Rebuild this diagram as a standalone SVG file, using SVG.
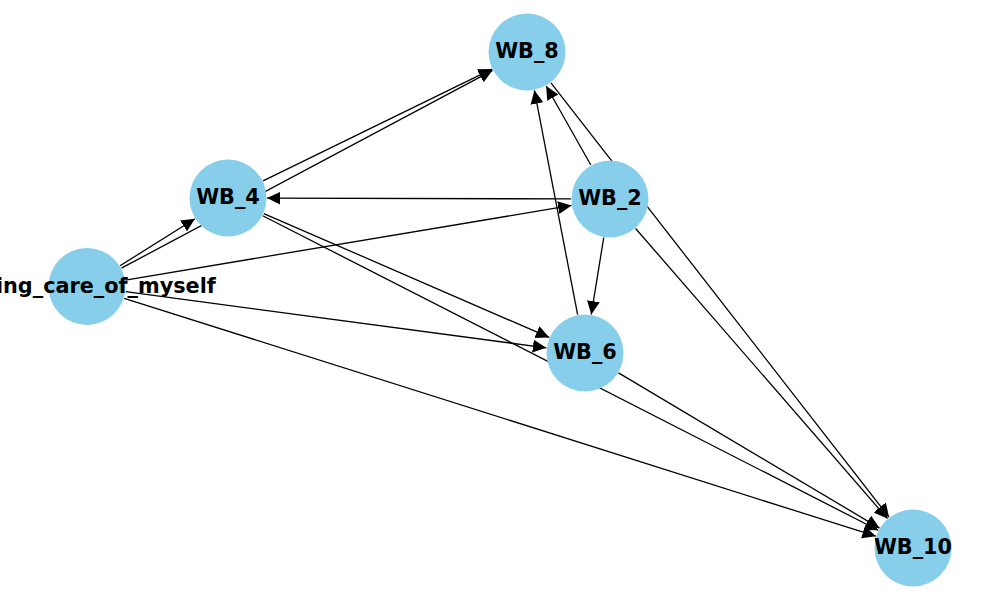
<svg xmlns="http://www.w3.org/2000/svg" width="1000" height="600" viewBox="0 0 1000 600">
  <style>
    .edge { stroke: #000; stroke-width: 1.3; fill: none; marker-end: url(#arrow); }
    .node circle { fill: #87CEEB; }
    .node text { font-family: "DejaVu Sans", "Liberation Sans", sans-serif; font-weight: bold; font-size: 20.8px; text-anchor: middle; fill: #000; }
  </style>
  <defs>
    <marker id="arrow" markerUnits="userSpaceOnUse" markerWidth="14" markerHeight="14" viewBox="0 0 13 12" refX="12.5" refY="6" orient="auto">
      <path d="M0,0 L12.5,6 L0,12 z" fill="#000"/>
    </marker>
  </defs>
  <rect width="1000" height="600" fill="#fff"/>

  <!-- directed edges, drawn beneath the nodes -->
  <g id="edges">
    <line class="edge" x1="120.0" y1="265.8" x2="194.97" y2="218.73"/>
    <line class="edge" x1="121.42" y1="268.16" x2="492.58" y2="70.34"/>
    <line class="edge" x1="263.05" y1="180.89" x2="491.95" y2="69.11"/>
    <line class="edge" x1="125.46" y1="280.06" x2="571.54" y2="205.44"/>
    <line class="edge" x1="125.66" y1="291.66" x2="546.34" y2="347.84"/>
    <line class="edge" x1="124.18" y1="298.27" x2="875.82" y2="536.23"/>
    <line class="edge" x1="263.77" y1="213.53" x2="549.23" y2="337.47"/>
    <line class="edge" x1="262.73" y1="215.75" x2="878.27" y2="530.25"/>
    <line class="edge" x1="571" y1="198.9" x2="267" y2="198.1"/>
    <line class="edge" x1="590.82" y1="165.04" x2="546.18" y2="85.96"/>
    <line class="edge" x1="603.75" y1="237.5" x2="591.25" y2="314.5"/>
    <line class="edge" x1="635.57" y1="228.45" x2="887.43" y2="518.55"/>
    <line class="edge" x1="550.95" y1="82.78" x2="889.05" y2="517.22"/>
    <line class="edge" x1="577.62" y1="314.7" x2="534.38" y2="90.3"/>
    <line class="edge" x1="618.52" y1="372.93" x2="879.48" y2="528.07"/>
  </g>

  <!-- the long label runs past the left edge of the canvas -->
  <g id="taking_care_of_myself" class="node">
    <circle cx="87" cy="286.5" r="38.5"/>
    <text x="87" y="292.5">taking_care_of_myself</text>
  </g>
  <g id="WB_4" class="node">
    <circle cx="228" cy="198" r="38.5"/>
    <text x="228" y="204">WB_4</text>
  </g>
  <g id="WB_8" class="node">
    <circle cx="527" cy="52" r="38.5"/>
    <text x="527" y="58">WB_8</text>
  </g>
  <g id="WB_2" class="node">
    <circle cx="610" cy="199" r="38.5"/>
    <text x="610" y="205">WB_2</text>
  </g>
  <g id="WB_6" class="node">
    <circle cx="585" cy="353" r="38.5"/>
    <text x="585" y="359">WB_6</text>
  </g>
  <g id="WB_10" class="node">
    <circle cx="913" cy="548" r="38.5"/>
    <text x="913" y="554">WB_10</text>
  </g>
</svg>
